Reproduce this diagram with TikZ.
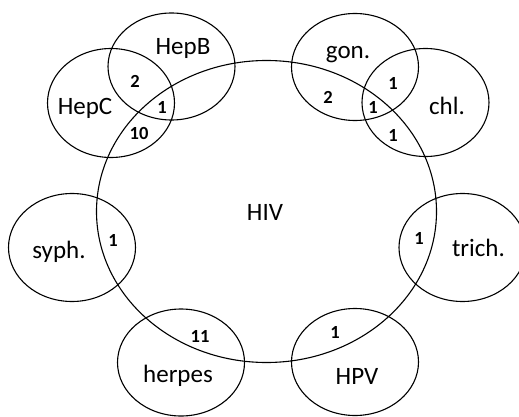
\documentclass[tikz,border=0pt]{standalone}
\usepackage{fontspec}
\setmainfont{Carlito}
\usetikzlibrary{shapes.geometric}
\begin{document}
\begin{tikzpicture}[x=1pt,y=-1pt,
  set/.style={draw, ellipse, line width=1.1pt, inner sep=0pt, outer sep=0pt,
    minimum width=127pt, minimum height=107pt},
  setname/.style={anchor=base, font=\fontsize{25}{29}\selectfont, inner sep=0pt},
  count/.style={anchor=center, font=\fontsize{18.5}{22}\selectfont\bfseries, inner sep=0pt}]
  \useasboundingbox (0,0) rectangle (519,417);
  \clip (0,0) rectangle (519,417);
  % the large HIV set
  \node[set, minimum width=340pt, minimum height=302pt] (hiv) at (266.5,211.5) {};
  % the smaller infection sets around it
  \node[set] (hepb)   at (171.5,66.5) {};
  \node[set, minimum height=109pt] (hepc) at (111,103) {};
  \node[set] (gon)    at (355,67) {};
  \node[set, minimum height=108pt] (chl) at (425.5,102.5) {};
  \node[set, minimum height=108pt] (syph) at (72,247.5) {};
  \node[set, minimum height=108pt] (trich) at (462.5,247.5) {};
  \node[set] (herpes) at (181,362.5) {};
  \node[set] (hpv)    at (355,362) {};
  % set names
  \node[setname] (thiv)    at (265,220) {HIV};
  \node[setname] (thepb)   at (183,55) {HepB};
  \node[setname] (thepc)   at (85,115) {HepC};
  \node[setname] (tgon)    at (348,59) {gon.};
  \node[setname] (tchl)    at (447,115) {chl.};
  \node[setname] (tsyph)   at (59,258) {syph.};
  \node[setname] (ttrich)  at (478.5,256) {trich.};
  \node[setname] (therpes) at (178,382) {herpes};
  \node[setname] (thpv)    at (357,384) {HPV};
  % region counts
  \node[count] (n1)  at (135,81)  {2};
  \node[count] (n2)  at (162,107) {1};
  \node[count] (n3)  at (139,133) {10};
  \node[count] (n4)  at (328,97)  {2};
  \node[count] (n5)  at (393,83)  {1};
  \node[count] (n6)  at (373,107) {1};
  \node[count] (n7)  at (393,135) {1};
  \node[count] (n8)  at (113,240) {1};
  \node[count] (n9)  at (200,336) {11};
  \node[count] (n10) at (419,238) {1};
  \node[count] (n11) at (335,332) {1};
\end{tikzpicture}
\end{document}
